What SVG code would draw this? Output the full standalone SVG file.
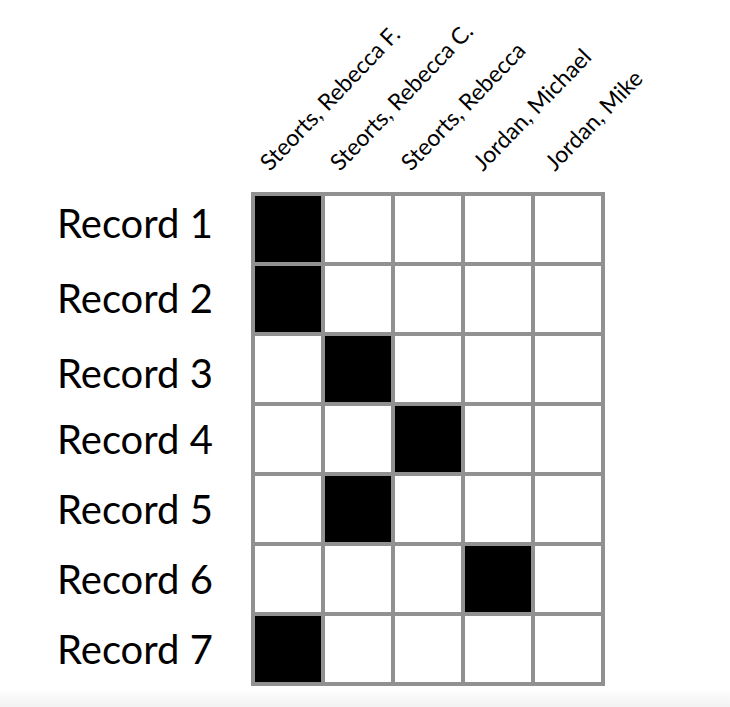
<svg xmlns="http://www.w3.org/2000/svg" width="730" height="707" viewBox="0 0 730 707">
<style>
.row{font-family:Lato,"Open Sans","Liberation Sans",sans-serif;font-size:40px;fill:#000}
.col{font-family:Lato,"Open Sans","Liberation Sans",sans-serif;font-size:23px;fill:#000}
.cell{fill:#fff;stroke:#919191;stroke-width:4}
.on{fill:#000}
</style>
<defs>
<linearGradient id="bg" x1="0" y1="0" x2="0" y2="1">
<stop offset="0" stop-color="#fff"/>
<stop offset="1" stop-color="#f2f2f2"/>
</linearGradient>
</defs>
<rect width="730" height="707" fill="#fff"/>
<rect y="688" width="730" height="19" fill="url(#bg)"/>
<g id="column-labels">
<text class="col" transform="translate(270,172) rotate(-46)">Steorts, Rebecca F.</text>
<text class="col" transform="translate(340,172) rotate(-46)">Steorts, Rebecca C.</text>
<text class="col" transform="translate(411,172) rotate(-46)">Steorts, Rebecca</text>
<text class="col" transform="translate(483,172) rotate(-46)">Jordan, Michael</text>
<text class="col" transform="translate(555,172) rotate(-46)">Jordan, Mike</text>
</g>
<g id="row-labels">
<text class="row" x="57" y="238">Record 1</text>
<text class="row" x="57" y="313">Record 2</text>
<text class="row" x="57" y="388">Record 3</text>
<text class="row" x="57" y="454">Record 4</text>
<text class="row" x="57" y="524">Record 5</text>
<text class="row" x="57" y="594">Record 6</text>
<text class="row" x="57" y="664">Record 7</text>
</g>
<g id="grid">
<g id="row1"><rect class="cell on" x="253" y="194" width="70" height="70"/><rect class="cell" x="323" y="194" width="70" height="70"/><rect class="cell" x="393" y="194" width="70" height="70"/><rect class="cell" x="463" y="194" width="70" height="70"/><rect class="cell" x="533" y="194" width="70" height="70"/></g>
<g id="row2"><rect class="cell on" x="253" y="264" width="70" height="70"/><rect class="cell" x="323" y="264" width="70" height="70"/><rect class="cell" x="393" y="264" width="70" height="70"/><rect class="cell" x="463" y="264" width="70" height="70"/><rect class="cell" x="533" y="264" width="70" height="70"/></g>
<g id="row3"><rect class="cell" x="253" y="334" width="70" height="70"/><rect class="cell on" x="323" y="334" width="70" height="70"/><rect class="cell" x="393" y="334" width="70" height="70"/><rect class="cell" x="463" y="334" width="70" height="70"/><rect class="cell" x="533" y="334" width="70" height="70"/></g>
<g id="row4"><rect class="cell" x="253" y="404" width="70" height="70"/><rect class="cell" x="323" y="404" width="70" height="70"/><rect class="cell on" x="393" y="404" width="70" height="70"/><rect class="cell" x="463" y="404" width="70" height="70"/><rect class="cell" x="533" y="404" width="70" height="70"/></g>
<g id="row5"><rect class="cell" x="253" y="474" width="70" height="70"/><rect class="cell on" x="323" y="474" width="70" height="70"/><rect class="cell" x="393" y="474" width="70" height="70"/><rect class="cell" x="463" y="474" width="70" height="70"/><rect class="cell" x="533" y="474" width="70" height="70"/></g>
<g id="row6"><rect class="cell" x="253" y="544" width="70" height="70"/><rect class="cell" x="323" y="544" width="70" height="70"/><rect class="cell" x="393" y="544" width="70" height="70"/><rect class="cell on" x="463" y="544" width="70" height="70"/><rect class="cell" x="533" y="544" width="70" height="70"/></g>
<g id="row7"><rect class="cell on" x="253" y="614" width="70" height="70"/><rect class="cell" x="323" y="614" width="70" height="70"/><rect class="cell" x="393" y="614" width="70" height="70"/><rect class="cell" x="463" y="614" width="70" height="70"/><rect class="cell" x="533" y="614" width="70" height="70"/></g>
</g>
</svg>
